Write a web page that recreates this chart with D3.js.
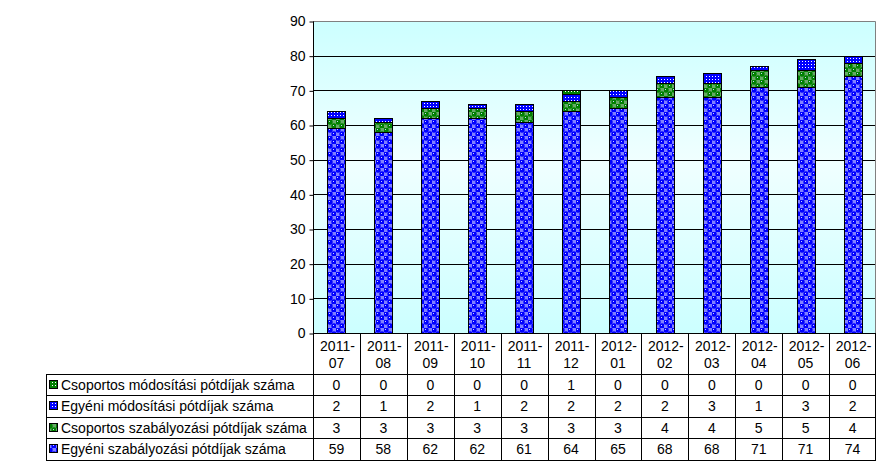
<!DOCTYPE html>
<html><head><meta charset="utf-8">
<script src="https://cdn.jsdelivr.net/npm/d3@7"></script>
<style>body{margin:0;background:#fff}svg{display:block}text{font-family:"Liberation Sans",Arial,sans-serif;fill:#000}</style>
</head><body>
<script>
const categories = ["2011-07","2011-08","2011-09","2011-10","2011-11","2011-12","2012-01","2012-02","2012-03","2012-04","2012-05","2012-06"];
const egyeniSzab = [59,58,62,62,61,64,65,68,68,71,71,74];
const csopSzab   = [3,3,3,3,3,3,3,4,4,5,5,4];
const egyeniMod  = [2,1,2,1,2,2,2,2,3,1,3,2];
const csopMod    = [0,0,0,0,0,1,0,0,0,0,0,0];
const seriesNames = ["Egyéni szabályozási pótdíjak száma","Csoportos szabályozási pótdíjak száma","Egyéni módosítási pótdíjak száma","Csoportos módosítási pótdíjak száma"];
const seriesValues = [egyeniSzab, csopSzab, egyeniMod, csopMod];
const yTicks = [0,10,20,30,40,50,60,70,80,90];

const W=891,H=470;
const L=313,R=876,T=21,B=333;
const FS="14px";
const svg=d3.select("body").append("svg").attr("width",W).attr("height",H);
const defs=svg.append("defs");
const g=defs.append("linearGradient").attr("id","bg").attr("x1",0).attr("y1",0).attr("x2",0).attr("y2",1);
g.append("stop").attr("offset","0").attr("stop-color","#ccffff");
g.append("stop").attr("offset","0.45").attr("stop-color","#f0ffff");
g.append("stop").attr("offset","1").attr("stop-color","#ccffff");
function balls(id,col,light){
  const p=defs.append("pattern").attr("id",id).attr("patternUnits","userSpaceOnUse").attr("width",8).attr("height",8);
  p.append("rect").attr("width",8).attr("height",8).attr("fill","#ffffff");
  p.append("rect").attr("x",4).attr("y",0).attr("width",4).attr("height",4).attr("fill",light);
  p.append("rect").attr("x",0).attr("y",4).attr("width",4).attr("height",4).attr("fill",light);
  [[2,2],[6,6]].forEach(([cx,cy])=>{
    p.append("circle").attr("cx",cx).attr("cy",cy).attr("r",2.7).attr("fill",col);
    p.append("rect").attr("x",cx-1).attr("y",cy-1).attr("width",1).attr("height",1).attr("fill","#ccccff");
  });
  return "url(#"+id+")";
}
function dots(id,col){
  const p=defs.append("pattern").attr("id",id).attr("patternUnits","userSpaceOnUse").attr("width",3).attr("height",3);
  p.append("rect").attr("width",3).attr("height",3).attr("fill",col);
  p.append("rect").attr("x",1).attr("y",1).attr("width",1).attr("height",1).attr("fill","#ffffff");
  return "url(#"+id+")";
}
const fills=[balls("pB","#0000ff","#8080ff"), balls("pG","#008000","#66aa66"), dots("dB","#0000ff"), dots("dG","#008000")];

const x=d3.scaleBand().domain(categories).range([L,R]).padding(0);
const y=d3.scaleLinear().domain([0,90]).range([B,T]);

svg.append("rect").attr("x",L).attr("y",T).attr("width",R-L).attr("height",B-T).attr("fill","url(#bg)");
svg.append("g").selectAll("line").data(yTicks.filter(d=>d>0&&d<90)).join("line")
  .attr("x1",L).attr("x2",R).attr("y1",d=>Math.round(y(d))+0.5).attr("y2",d=>Math.round(y(d))+0.5).attr("stroke","#000");
svg.append("path").attr("d",`M${L},${T+0.5}H${R-0.5}V${B}`).attr("fill","none").attr("stroke","#808080");

const stackData=categories.map((c,i)=>{const o={cat:c};seriesValues.forEach((s,k)=>o["s"+k]=s[i]);return o;});
const stack=d3.stack().keys(seriesValues.map((_,k)=>"s"+k))(stackData);
const bw=18;
stack.forEach((layer,k)=>{
  svg.append("g").selectAll("rect").data(layer.filter(d=>d[1]-d[0]>0)).join("rect")
    .attr("x",d=>Math.round(x(d.data.cat)+x.bandwidth()/2-bw/2)+0.5)
    .attr("y",d=>Math.round(y(d[1]))+0.5)
    .attr("width",bw)
    .attr("height",d=>Math.round(y(d[0]))-Math.round(y(d[1])))
    .attr("fill",fills[k]).attr("stroke","#000").attr("stroke-width",1);
});

const ya=svg.append("g").attr("transform",`translate(${L+0.5},0.5)`)
  .call(d3.axisLeft(y).tickValues(yTicks).tickSize(4).tickPadding(4));
ya.select(".domain").attr("d",`M0,${B}V${T}`).attr("stroke","#000");
ya.selectAll("text").style("font-size",FS).style("font-family","Liberation Sans, Arial, sans-serif").attr("fill","#000");
ya.selectAll(".tick line").attr("stroke","#000");
svg.append("line").attr("x1",L).attr("x2",R).attr("y1",B+0.5).attr("y2",B+0.5).attr("stroke","#000");

const rowTops=[374,395,417,438,460];
const tbl=svg.append("g");
const step=x.step();
rowTops.forEach(r=>tbl.append("line").attr("x1",46).attr("x2",R).attr("y1",r+0.5).attr("y2",r+0.5).attr("stroke","#000"));
categories.forEach(c=>tbl.append("line").attr("x1",Math.round(x(c))+0.5).attr("x2",Math.round(x(c))+0.5).attr("y1",B).attr("y2",460).attr("stroke","#000"));
tbl.append("line").attr("x1",R-0.5).attr("x2",R-0.5).attr("y1",B).attr("y2",460.5).attr("stroke","#000");
tbl.append("line").attr("x1",46.5).attr("x2",46.5).attr("y1",374).attr("y2",460.5).attr("stroke","#000");
categories.forEach(c=>{
  const [a,b]=c.split("-");
  const cx=x(c)+step/2;
  tbl.append("text").attr("x",cx+1).attr("y",351).attr("text-anchor","middle").style("font-size",FS).text(a+"-");
  tbl.append("text").attr("x",cx).attr("y",368).attr("text-anchor","middle").style("font-size",FS).text(b);
});
const rowOrder=[3,2,1,0];
rowOrder.forEach((k,ri)=>{
  const top=rowTops[ri], mid=top+(rowTops[ri+1]-top)/2;
  tbl.append("rect").attr("x",49.5).attr("y",Math.round(mid)-4.5).attr("width",8).attr("height",8)
    .attr("fill",fills[k]).attr("stroke","#000").attr("stroke-width",1);
  tbl.append("text").attr("x",61).attr("y",mid+5).style("font-size",FS).text(seriesNames[k]);
  categories.forEach((c,i)=>{
    tbl.append("text").attr("x",x(c)+step/2).attr("y",mid+5).attr("text-anchor","middle").style("font-size",FS).text(seriesValues[k][i]);
  });
});
</script>
</body></html>
